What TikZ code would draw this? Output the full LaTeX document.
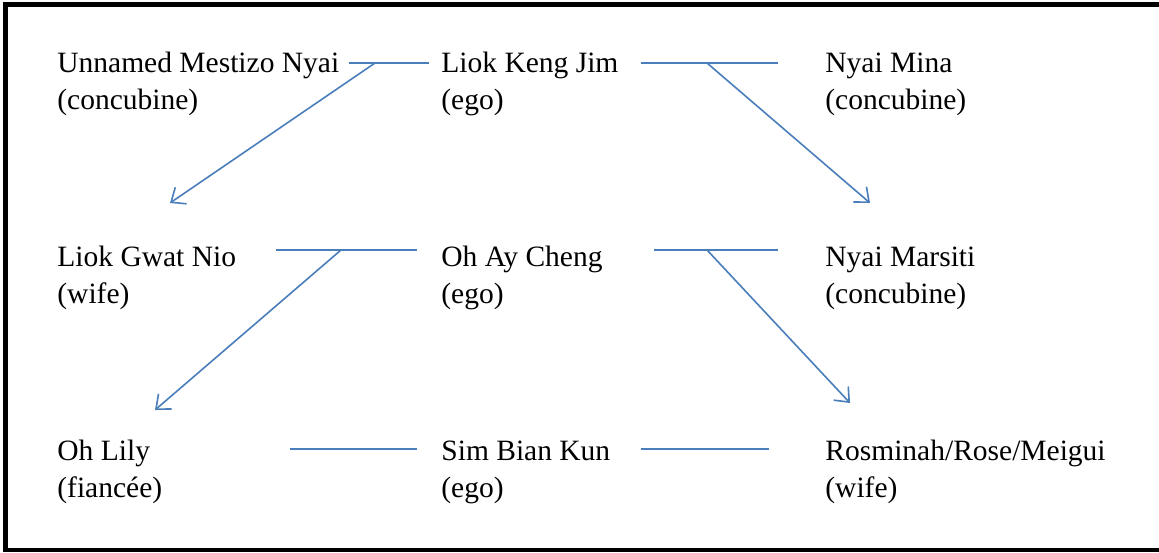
\documentclass[tikz,border=0pt]{standalone}
\usepackage{fontspec}
\setmainfont{Liberation Serif}
\usetikzlibrary{arrows.meta,positioning,calc}
\definecolor{kinblue}{HTML}{4A7EBB}

\begin{document}
\begin{tikzpicture}[x=0.5pt,y=-0.5pt,>={Straight Barb[length=6pt,width=10pt]},
  person/.style={anchor=base west, align=left, inner sep=0pt,
    font=\fontsize{14.75}{18.5}\selectfont},
  tie/.style={kinblue, line width=1pt},
  descent/.style={kinblue, line width=0.8pt, ->}]
\useasboundingbox (0,0) rectangle (1159,552);
\draw[line width=2.4pt] (1159,4.5) -- (5.5,4.5) -- (5.5,550) -- (1159,550);
% people (anchored on the baseline of the second line)
\node[person] (mestizo) at (57,109)  {Unnamed Mestizo Nyai\\(concubine)};
\node[person] (liok)    at (441,109) {Liok Keng Jim\\(ego)};
\node[person] (mina)    at (825,109) {Nyai Mina\\(concubine)};
\node[person] (gwat)    at (57,303)  {Liok Gwat Nio\\(wife)};
\node[person] (oh)      at (441,303) {Oh Ay Cheng\\(ego)};
\node[person] (marsiti) at (825,303) {Nyai Marsiti\\(concubine)};
\node[person] (lily)    at (57,497)  {Oh Lily\\(fianc\'ee)};
\node[person] (sim)     at (441,497) {Sim Bian Kun\\(ego)};
\node[person] (rose)    at (825,497) {Rosminah/Rose/Meigui\\(wife)};
% ties
\coordinate (a1) at (349,63);  \coordinate (a2) at (429,63);
\coordinate (b1) at (641,63);  \coordinate (b2) at (778,63);
\coordinate (c1) at (276,250); \coordinate (c2) at (417,250);
\coordinate (d1) at (654,250); \coordinate (d2) at (778,250);
\coordinate (e1) at (290,449); \coordinate (e2) at (417,449);
\coordinate (f1) at (641,449); \coordinate (f2) at (769,449);
\foreach \p in {a,b,c,d,e,f} \draw[tie] (\p1) -- (\p2);
% children
\coordinate (a0) at (375,63);  \coordinate (ga) at (170,203);
\coordinate (b0) at (707,63);  \coordinate (ma) at (870,203);
\coordinate (c0) at (341,250); \coordinate (la) at (155,410);
\coordinate (d0) at (707,250); \coordinate (ra) at (850,403);
\draw[descent] (a0) -- (ga);
\draw[descent] (b0) -- (ma);
\draw[descent] (c0) -- (la);
\draw[descent] (d0) -- (ra);
\end{tikzpicture}
\end{document}
